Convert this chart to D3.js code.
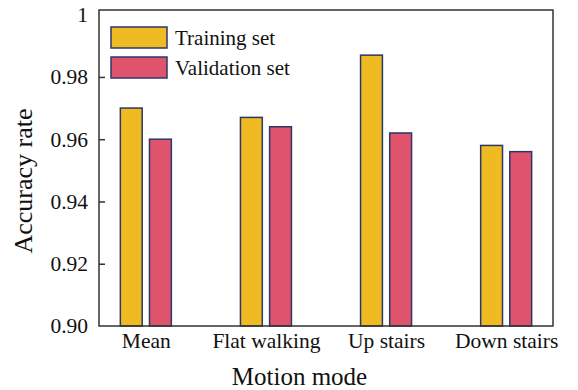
<!DOCTYPE html>
<html>
<head>
<meta charset="utf-8">
<script src="https://cdn.jsdelivr.net/npm/d3@7"></script>
<style>
  html, body { margin: 0; padding: 0; background: #fff; }
  text { font-family: "Liberation Serif", "Times New Roman", serif; fill: #111; }
</style>
</head>
<body>
<svg id="chart" width="578" height="390"></svg>
<script>
// Motion modes and accuracy per data split
const categories = ["Mean", "Flat walking", "Up stairs", "Down stairs"];
const seriesNames = ["Training set", "Validation set"];
const trainingValues = [0.970, 0.967, 0.987, 0.958];
const validationValues = [0.960, 0.964, 0.962, 0.956];
const yTicks = [0.90, 0.92, 0.94, 0.96, 0.98, 1.0];
const yTickLabels = ["0.90", "0.92", "0.94", "0.96", "0.98", "1"];
const colors = ["#EFBA22", "#E0536D"];

const svg = d3.select("#chart");
const plotLeft = 99, plotRight = 553, plotTop = 10, plotBottom = 326;

const y = d3.scaleLinear().domain([0.90, 1.0015]).range([plotBottom, plotTop]);
const x = d3.scalePoint().domain(categories).range([plotLeft, plotRight]).padding(0.39);
const xInner = d3.scaleBand().domain(seriesNames).range([-25.5, 25.5]).paddingInner(0.25);

const rows = categories.map((c, i) => ({
  category: c,
  values: [
    { series: seriesNames[0], value: trainingValues[i] },
    { series: seriesNames[1], value: validationValues[i] }
  ]
}));

// Bars
const groups = svg.append("g").selectAll("g").data(rows).join("g")
  .attr("transform", d => `translate(${x(d.category)},0)`);
groups.selectAll("rect").data(d => d.values).join("rect")
  .attr("x", d => xInner(d.series))
  .attr("width", xInner.bandwidth())
  .attr("y", d => y(d.value))
  .attr("height", d => y(0.90) - y(d.value))
  .attr("fill", (d, i) => colors[i])
  .attr("stroke", "#2B3768")
  .attr("stroke-width", 1.5);

// Frame
svg.append("rect")
  .attr("x", plotLeft).attr("y", plotTop)
  .attr("width", plotRight - plotLeft).attr("height", plotBottom - plotTop)
  .attr("fill", "none").attr("stroke", "#333").attr("stroke-width", 1.5);

// Y axis with inward ticks
const yAxis = d3.axisLeft(y).tickValues(yTicks)
  .tickFormat((d, i) => yTickLabels[i])
  .tickSizeInner(-6).tickSizeOuter(0).tickPadding(11);
const ya = svg.append("g").attr("transform", `translate(${plotLeft},0)`).call(yAxis);
ya.select(".domain").remove();
ya.selectAll(".tick line").attr("stroke", "#333").attr("stroke-width", 1.5)
  .filter(d => d === 1.0 || d === 0.90).remove();
ya.selectAll(".tick text")
  .attr("font-family", "Liberation Serif, serif")
  .attr("font-size", 21.5).attr("fill", "#111");

// X axis labels
const xAxis = d3.axisBottom(x).tickSize(0).tickPadding(7);
const xa = svg.append("g").attr("transform", `translate(0,${plotBottom})`).call(xAxis);
xa.select(".domain").remove();
xa.selectAll(".tick text")
  .attr("font-family", "Liberation Serif, serif")
  .attr("font-size", 21.5).attr("fill", "#111");

// Axis titles
svg.append("text")
  .attr("x", 299.5).attr("y", 385)
  .attr("text-anchor", "middle").attr("font-size", 25)
  .text("Motion mode");
svg.append("text")
  .attr("transform", "translate(32,181) rotate(-90)")
  .attr("text-anchor", "middle").attr("font-size", 26)
  .text("Accuracy rate");

// Legend
const legend = svg.append("g").attr("transform", "translate(111,27)");
seriesNames.forEach((name, i) => {
  const g = legend.append("g").attr("transform", `translate(0,${i * 30})`);
  g.append("rect").attr("width", 56).attr("height", 21)
    .attr("fill", colors[i]).attr("stroke", "#2B3768").attr("stroke-width", 1.5);
  g.append("text").attr("x", 64).attr("y", 18)
    .attr("font-size", 21).text(name);
});
</script>
</body>
</html>
